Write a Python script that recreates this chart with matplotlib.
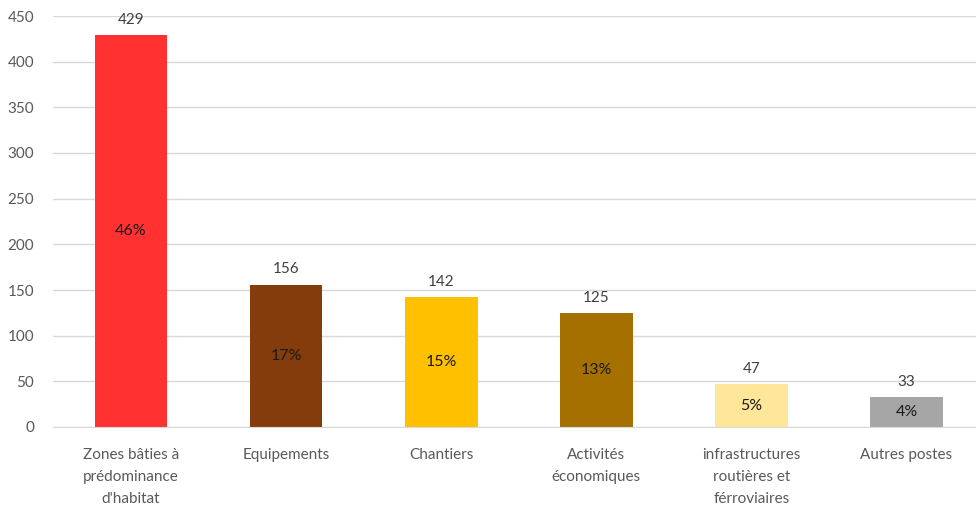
import matplotlib
matplotlib.use("Agg")
import matplotlib.pyplot as plt

categories = ["Zones bâties à\nprédominance\nd'habitat", "Equipements", "Chantiers",
              "Activités\néconomiques", "infrastructures\nroutières et\nférroviaires", "Autres postes"]
values = [429, 156, 142, 125, 47, 33]
percents = ["46%", "17%", "15%", "13%", "5%", "4%"]
colors = ["#FF3131", "#843C0C", "#FFC000", "#A67000", "#FFE699", "#A6A6A6"]
yticks = [0, 50, 100, 150, 200, 250, 300, 350, 400, 450]

plt.rcParams['font.family'] = ['Lato', 'DejaVu Sans']
W, H = 976, 508
fig = plt.figure(figsize=(W/100, H/100), dpi=100)
left, right = 53.4, 984
top, bottom = 16, 427
ax = fig.add_axes([left/W, 1-bottom/H, (right-left)/W, (bottom-top)/H])

x = list(range(len(categories)))
bars = ax.bar(x, values, width=0.47, color=colors, zorder=2)
ax.set_xlim(-0.5, len(categories)-0.5)
ax.set_ylim(0, 450)
ax.set_yticks(yticks)
ax.set_xticks(x)
ax.set_xticklabels(categories, fontsize=11, color="#595959", linespacing=1.75)
ax.tick_params(axis='y', labelsize=11, labelcolor="#595959", length=0, pad=14)
ax.tick_params(axis='x', length=0, pad=15)
ax.yaxis.grid(True, color="#D9D9D9", linewidth=1, zorder=0)
ax.set_axisbelow(True)
for s in ["top", "right", "left"]:
    ax.spines[s].set_visible(False)
ax.spines["bottom"].set_color("#D9D9D9")

for xi, v, p in zip(x, values, percents):
    ax.annotate(str(v), (xi, v), xytext=(0, 6), textcoords="offset points",
                ha="center", va="bottom", fontsize=11, color="#404040")
    ax.text(xi, v/2, p, ha="center", va="center", fontsize=11.5, color="#1a1a1a")

fig.savefig("out.png", dpi=100)
